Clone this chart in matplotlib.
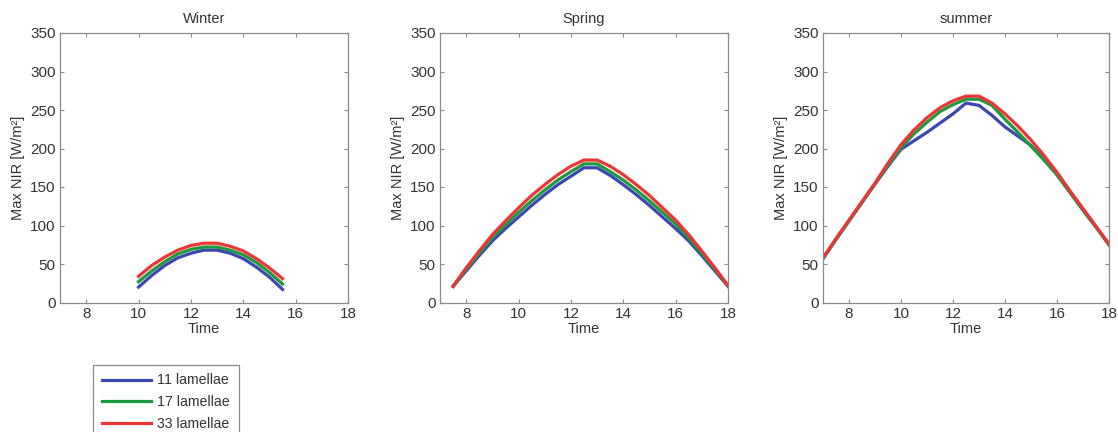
import numpy as np
import matplotlib
matplotlib.use('Agg')
import matplotlib.pyplot as plt

plt.rcParams['font.family'] = ['Liberation Sans', 'DejaVu Sans']

labels = ['11 lamellae', '17 lamellae', '33 lamellae']
colors = ['#3b46b0', '#1e9a3e', '#ee3535']

# winter
t_winter = [10, 10.5, 11, 11.5, 12, 12.5, 13, 13.5, 14, 14.5, 15, 15.5]
winter_11 = [20, 35, 48, 58, 64, 68, 68, 64, 57, 46, 33, 17]
winter_17 = [27, 41, 53, 63, 69, 72, 72, 68, 62, 52, 39, 24]
winter_33 = [34, 48, 59, 68, 74, 77, 77, 73, 67, 57, 45, 31]

# spring
t_spring = [7.5, 8, 8.5, 9, 9.5, 10, 10.5, 11, 11.5, 12, 12.5,
            13, 13.5, 14, 14.5, 15, 15.5, 16, 16.5, 17, 17.5, 18]
spring_11 = [21, 41, 61, 80, 96, 111, 126, 140, 153, 164, 175,
             175, 165, 153, 140, 126, 111, 96, 80, 61, 41, 21]
spring_17 = [21, 43, 64, 84, 101, 117, 132, 146, 159, 170, 180,
             180, 170, 159, 146, 132, 117, 102, 84, 64, 43, 22]
spring_33 = [21, 45, 67, 88, 106, 123, 139, 153, 166, 177, 185,
             185, 177, 166, 153, 139, 123, 107, 88, 67, 45, 22]

# summer
t_summer = [7, 7.5, 8, 8.5, 9, 9.5, 10, 10.5, 11, 11.5, 12, 12.5,
            13, 13.5, 14, 14.5, 15, 15.5, 16, 16.5, 17, 17.5, 18]
summer_11 = [57, 82, 106, 130, 154, 177, 199, 210, 221, 233, 245, 259,
             256, 243, 228, 216, 204, 186, 166, 143, 120, 98, 75]
summer_17 = [57, 82, 106, 130, 154, 178, 201, 219, 234, 248, 257, 264,
             264, 256, 238, 221, 203, 185, 166, 143, 120, 98, 75]
summer_33 = [58, 83, 107, 131, 155, 181, 205, 224, 240, 253, 262, 268,
             268, 259, 245, 229, 211, 191, 169, 145, 122, 99, 76]

panels = [
    ('Winter', t_winter, [winter_11, winter_17, winter_33]),
    ('Spring', t_spring, [spring_11, spring_17, spring_33]),
    ('summer', t_summer, [summer_11, summer_17, summer_33]),
]

W, H = 1118, 432
fig = plt.figure(figsize=(W / 100, H / 100), dpi=100)

lefts = [60, 440, 823]
widths = [288, 288, 286]
top, bottom = 33, 302.5

edge = '#8a8a8a'
txt = '#333333'

handles = None
for (title, t, series), l, w in zip(panels, lefts, widths):
    ax = fig.add_axes([l / W, 1 - bottom / H, w / W, (bottom - top) / H])
    hs = []
    for y, c, lab in zip(series, colors, labels):
        h, = ax.plot(t, y, color=c, lw=2.3, label=lab)
        hs.append(h)
    handles = hs
    ax.set_xlim(7, 18)
    ax.set_ylim(0, 350)
    ax.set_xticks(np.arange(8, 19, 2))
    ax.set_yticks(np.arange(0, 351, 50))
    ax.tick_params(direction='in', length=3, width=0.8, colors=edge,
                   labelcolor=txt, labelsize=11, top=True, right=True, pad=3)
    for s in ax.spines.values():
        s.set_color(edge)
        s.set_linewidth(0.9)
    ax.set_title(title, fontsize=10.5, color=txt, pad=7)
    ax.set_xlabel('Time', fontsize=10.5, color=txt, labelpad=1)
    ax.set_ylabel('Max NIR [W/m²]', fontsize=10.5, color=txt, labelpad=4)

leg = fig.legend(handles=handles, labels=labels, loc='upper left',
                 bbox_to_anchor=(93 / W, 1 - 365 / H), borderaxespad=0,
                 fontsize=10.2, handlelength=3.5, handletextpad=0.45,
                 labelspacing=0.55, borderpad=0.6, fancybox=False,
                 framealpha=1)
leg.get_frame().set_edgecolor(edge)
leg.get_frame().set_linewidth(0.9)
for tx in leg.get_texts():
    tx.set_color(txt)

fig.savefig('out.png', dpi=100)
